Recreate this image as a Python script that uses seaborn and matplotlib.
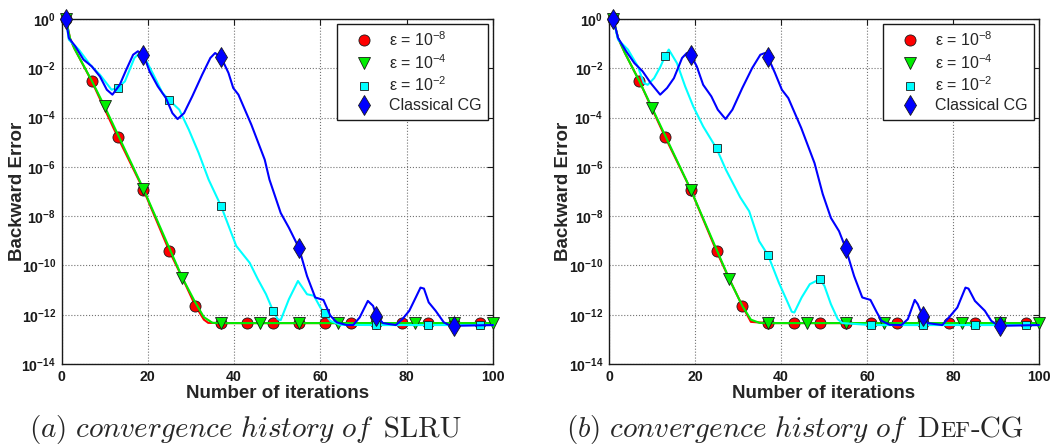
import numpy as np
import pandas as pd
import matplotlib
matplotlib.use("Agg")
import matplotlib.pyplot as plt
import seaborn as sns
from matplotlib.lines import Line2D
from matplotlib.ticker import FixedLocator, NullLocator, FuncFormatter

# ---------------- data (log10 of backward error) ----------------
# (a) SLRU
red_x_a = [1, 2, 3, 7, 13, 19, 25, 28, 31, 33, 34, 37, 43, 49, 55, 61, 67, 73, 79, 85, 91, 97, 100]
red_e_a = [0, -0.8, -1.2, -2.52, -4.78, -6.93, -9.42, -10.5, -11.63, -12.2, -12.33,
           -12.34, -12.34, -12.34, -12.34, -12.34, -12.34, -12.34, -12.34, -12.34, -12.34, -12.34, -12.34]
green_x_a = [1, 2, 3, 7, 10, 19, 28, 31, 33, 35, 37, 46, 55, 64, 73, 82, 91, 100]
green_e_a = [0, -0.8, -1.2, -2.5, -3.55, -6.9, -10.5, -11.5, -12.1, -12.33,
             -12.34, -12.34, -12.34, -12.34, -12.34, -12.34, -12.34, -12.34]
cyan_x_a = [1, 1.7, 4, 6.6, 8.9, 11.6, 13, 14.7, 16.9, 18.5, 21.1, 23.4, 25, 27.3, 29.5, 31.8,
            34.1, 37, 40.5, 43.6, 45.5, 47.4, 49, 50.1, 50.8, 52.7, 54.8, 56.9, 58.5, 60, 61,
            62.3, 64.6, 73, 85, 97, 100]
cyan_e_a = [0, -0.84, -1.24, -1.85, -2.26, -2.87, -2.8, -2.53, -1.58, -1.31, -2.19, -3.0, -3.3,
            -3.68, -4.49, -5.44, -6.52, -7.6, -9.21, -9.89, -10.56, -11.17, -11.83, -12.18, -12.22,
            -11.37, -10.63, -11.17, -11.23, -11.71, -11.95, -12.25, -12.41, -12.42, -12.42, -12.42, -12.42]
blue_x_a = [1, 1.7, 3.2, 5.1, 7, 8.9, 10.5, 11.8, 13.5, 15, 16.6, 17.7, 19, 20.4, 22.3, 24.2, 25.7,
            26.9, 28.4, 30.3, 32.6, 34.5, 35.6, 37, 38.7, 39.8, 41, 44, 47.1, 48.2, 50.8, 52.7, 55,
            56.9, 58.8, 60.7, 62.3, 63.8, 66.1, 67.6, 69.1, 71, 72.2, 73, 74.5, 77.5, 79, 80.6, 82.1,
            83.2, 84, 85.1, 86.7, 88.6, 89.7, 91, 100]
blue_e_a = [0, -0.77, -1.11, -1.65, -1.92, -2.33, -2.87, -3.07, -2.67, -2.06, -1.45, -1.31, -1.45,
            -2.12, -2.73, -3.21, -3.82, -4.06, -3.82, -3.14, -2.26, -1.58, -1.38, -1.56, -2.19, -2.8,
            -3.07, -4.29, -5.71, -6.52, -7.87, -8.47, -9.28, -10.43, -11.3, -11.4, -12.04, -12.31,
            -12.42, -12.42, -12.11, -11.44, -11.64, -12.04, -12.34, -12.42, -12.18, -11.84, -11.3,
            -10.9, -10.94, -11.5, -11.84, -12.31, -12.41, -12.45, -12.42]

# (b) Def-CG
red_x_b = [1, 2.1, 3.7, 7, 13, 19, 25, 28, 31, 33, 37, 43, 49, 55, 61, 67, 73, 79, 85, 91, 97, 100]
red_e_b = [0, -0.77, -1.38, -2.5, -4.77, -6.92, -9.42, -10.56, -11.64, -12.29,
           -12.34, -12.34, -12.34, -12.34, -12.34, -12.34, -12.34, -12.34, -12.34, -12.34, -12.34, -12.34]
green_x_b = [1, 2.1, 3.7, 7, 10, 19, 28, 31, 33, 35, 37, 46, 55, 64, 73, 82, 91, 100]
green_e_b = [0, -0.77, -1.38, -2.5, -3.6, -6.92, -10.56, -11.64, -12.2, -12.33,
             -12.34, -12.34, -12.34, -12.34, -12.34, -12.34, -12.34, -12.34]
cyan_x_b = [1, 2.1, 4.4, 6.7, 8.1, 9, 10.5, 12, 13, 13.9, 15.8, 17.7, 19.6, 21.9, 25, 27.2, 30.5,
            32.6, 34.9, 37, 39.5, 41.4, 42.5, 43.1, 44.8, 46.7, 49, 50.1, 51.6, 53.2, 54.3, 61, 73,
            85, 97, 100]
cyan_e_b = [0, -0.84, -1.24, -1.92, -2.6, -2.67, -2.4, -1.92, -1.52, -1.24, -1.79, -2.73, -3.55,
            -4.36, -5.25, -6.12, -7.23, -7.8, -9.01, -9.59, -10.7, -11.44, -11.88, -11.91, -11.3,
            -10.76, -10.56, -10.83, -11.57, -12.18, -12.34, -12.42, -12.42, -12.42, -12.42, -12.42]
blue_x_b = [1, 2.1, 4, 5.9, 7.8, 9.7, 11.9, 13.5, 15.1, 17, 18.1, 19, 20.4, 21.9, 23.8, 25.3, 27.1,
            28.7, 31, 33.3, 35.2, 36.3, 37, 38.6, 40.2, 41.7, 44.7, 47.8, 49.7, 51.6, 53.5, 55, 57,
            58.9, 60.8, 62.3, 63.4, 65.3, 68, 69.5, 71.1, 71.8, 73, 74.1, 77.5, 79.4, 81, 82.9, 83.6,
            85.1, 87.4, 88.9, 90, 91, 100]
blue_e_b = [0, -0.77, -1.31, -1.79, -2.12, -2.6, -3.07, -2.8, -2.4, -1.58, -1.38, -1.45, -1.92,
            -2.67, -3.14, -3.68, -4.06, -3.68, -2.8, -1.99, -1.45, -1.38, -1.56, -2.19, -2.87, -3.21,
            -4.42, -5.85, -7.1, -8.07, -8.61, -9.28, -10.43, -11.3, -11.4, -11.91, -12.25, -12.41,
            -12.42, -12.18, -11.4, -11.57, -12.07, -12.34, -12.42, -12.04, -11.71, -10.9, -10.94,
            -11.44, -11.84, -12.25, -12.38, -12.45, -12.42]

# marker iterations
red_marks = [1, 7, 13, 19, 25, 31, 37, 43, 49, 55, 61, 67, 73, 79, 85, 91, 97]
green_marks = [1, 10, 19, 28, 37, 46, 55, 64, 73, 82, 91, 100]
cyan_marks = [1, 13, 25, 37, 49, 61, 73, 85, 97]
blue_marks = [1, 19, 37, 55, 73, 91]

labels = [r"ε = $\mathregular{10^{-8}}$", r"ε = $\mathregular{10^{-4}}$",
          r"ε = $\mathregular{10^{-2}}$", "Classical CG"]
x_ticks = [0, 20, 40, 60, 80, 100]
y_exps = [0, -2, -4, -6, -8, -10, -12, -14]

# ---------------- style ----------------
sns.set_theme(style="white")
plt.rcParams['font.family'] = ['Liberation Sans', 'DejaVu Sans']
plt.rcParams['mathtext.fontset'] = 'custom'
plt.rcParams['mathtext.rm'] = 'Liberation Sans'
plt.rcParams['mathtext.bf'] = 'Liberation Sans:bold'
plt.rcParams['mathtext.it'] = 'Liberation Sans:italic'

W, H = 1060, 448
fig = plt.figure(figsize=(W / 100, H / 100), dpi=100)

styles = [("#ff0000", "o", 8.0), ("#00ee00", "v", 8.5), ("#00ffff", "s", 6.2), ("#0000ff", "d", 10.0)]


def draw(ax, x, e, marks, st, z):
    color, marker, ms = st
    df = pd.DataFrame({"it": x, "err": 10.0 ** np.asarray(e, dtype=float)})
    idx = [x.index(m) for m in marks]
    sns.lineplot(data=df, x="it", y="err", ax=ax, color=color, linewidth=1.5,
                 marker=marker, markevery=idx, markersize=ms, markerfacecolor=color,
                 markeredgecolor="k", markeredgewidth=0.6, sort=False, estimator=None,
                 zorder=z, clip_on=False)


def panel(rect, series, ylab_x):
    ax = fig.add_axes(rect)
    ax.set_yscale("log")
    for i, (x, e, m) in enumerate(series):
        draw(ax, x, e, m, styles[i], 3 + i)
    ax.set_xlim(0, 100)
    ax.set_ylim(1e-14, 1e0)
    ax.xaxis.set_major_locator(FixedLocator(x_ticks))
    ax.yaxis.set_major_locator(FixedLocator([10.0 ** k for k in y_exps]))
    ax.yaxis.set_minor_locator(NullLocator())
    ax.yaxis.set_major_formatter(FuncFormatter(
        lambda v, p: r"$\mathbf{10^{%d}}$" % int(round(np.log10(v)))))
    ax.tick_params(direction="in", top=True, right=True, length=4, width=0.8,
                   colors="k", labelsize=10.2, pad=4)
    for lab in ax.get_xticklabels():
        lab.set_fontweight("bold")
    ax.grid(True, which="major", linestyle=":", color="0.45", linewidth=0.8)
    for sp in ax.spines.values():
        sp.set_color("k")
        sp.set_linewidth(1.0)
    ax.set_xlabel("Number of iterations", fontsize=13.5, fontweight="bold", labelpad=1)
    ax.set_ylabel("Backward Error", fontsize=13.5, fontweight="bold")
    ax.yaxis.set_label_coords(ylab_x, 0.5)
    handles = [Line2D([], [], linestyle="none", marker=s[1], markersize=s[2],
                      markerfacecolor=s[0], markeredgecolor="k", markeredgewidth=0.6,
                      label=l) for s, l in zip(styles, labels)]
    leg = ax.legend(handles=handles, loc="upper right", fontsize=11.5, frameon=True,
                    fancybox=False, edgecolor="k", framealpha=1, borderaxespad=0.3,
                    handlelength=2.6, handletextpad=0.25, labelspacing=0.25, borderpad=0.4)
    leg.get_frame().set_linewidth(1.0)
    leg.set_zorder(10)
    return ax


ax_a = panel([61.5 / W, 1 - 364 / H, 431.5 / W, 345 / H],
             [(red_x_a, red_e_a, red_marks), (green_x_a, green_e_a, green_marks),
              (cyan_x_a, cyan_e_a, cyan_marks), (blue_x_a, blue_e_a, blue_marks)], -0.082)
ax_b = panel([609 / W, 1 - 364 / H, 430 / W, 345 / H],
             [(red_x_b, red_e_b, red_marks), (green_x_b, green_e_b, green_marks),
              (cyan_x_b, cyan_e_b, cyan_marks), (blue_x_b, blue_e_b, blue_marks)], -0.086)

# ---------------- captions ----------------
fig.canvas.draw()
renderer = fig.canvas.get_renderer()
CS = 21


def caption(xc_px, base_px, pieces):
    texts = []
    for s, kw in pieces:
        t = fig.text(0, 1 - base_px / H, s, va="baseline", ha="left", **kw)
        texts.append(t)
    widths = [t.get_window_extent(renderer).width for t in texts]
    x = xc_px - sum(widths) / 2
    for t, w in zip(texts, widths):
        t.set_x(x / W)
        x += w


it_kw = dict(size=CS, math_fontfamily="cm")
rm_kw = dict(size=CS, family="cmr10")
sc_kw = dict(size=CS * 0.78, family="cmr10")
caption(245, 437, [(r"$\mathit{(a)\ convergence\ history\ of}$", it_kw), (" SLRU", rm_kw)])
caption(795, 437, [(r"$\mathit{(b)\ convergence\ history\ of}$", it_kw), (" D", rm_kw),
                   ("EF", sc_kw), ("-CG", rm_kw)])

fig.savefig("out.png", dpi=100)
